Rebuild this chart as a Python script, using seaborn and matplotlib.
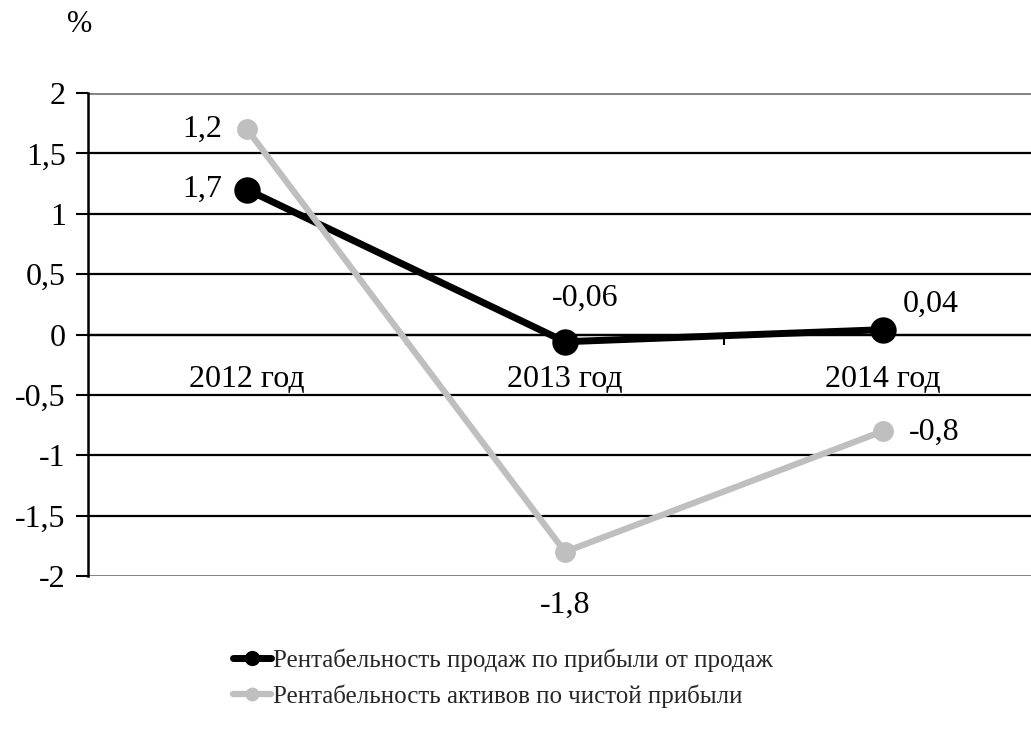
import matplotlib
matplotlib.use('Agg')
import matplotlib.pyplot as plt
import seaborn as sns
import pandas as pd

years = ['2012 год', '2013 год', '2014 год']
sales_margin = [1.2, -0.06, 0.04]
assets_return = [1.7, -1.8, -0.8]
sales_labels = ['1,7', '-0,06', '0,04']
assets_labels = ['1,2', '-1,8', '-0,8']
series_names = ['Рентабельность продаж по прибыли от продаж',
                'Рентабельность активов по чистой прибыли']
y_ticks = [-2, -1.5, -1, -0.5, 0, 0.5, 1, 1.5, 2]
y_tick_labels = ['-2', '-1,5', '-1', '-0,5', '0', '0,5', '1', '1,5', '2']

BLACK = '#000000'
GRAY = '#BFBFBF'

sns.set_theme(style='white')
plt.rcParams['font.family'] = ['Liberation Serif', 'DejaVu Serif']

fig = plt.figure(figsize=(10.31, 7.31), dpi=100)
ax = fig.add_axes([88 / 1031, 155 / 731, 954 / 1031, 483 / 731])

df_sales = pd.DataFrame({'year': years, 'value': sales_margin})
df_assets = pd.DataFrame({'year': years, 'value': assets_return})

sns.lineplot(data=df_sales, x='year', y='value', ax=ax, color=BLACK, sort=False,
             linewidth=5, marker='o', markersize=19, markeredgecolor=BLACK,
             markeredgewidth=0, label=series_names[0], zorder=3)
sns.lineplot(data=df_assets, x='year', y='value', ax=ax, color=GRAY, sort=False,
             linewidth=4.5, marker='o', markersize=15, markeredgecolor=GRAY,
             markeredgewidth=0, label=series_names[1], zorder=4)

ax.set_xlim(-0.5, 2.5)
ax.set_ylim(-2, 2)
ax.set_xlabel('')
ax.set_ylabel('')

# y axis
ax.set_yticks(y_ticks)
ax.set_yticklabels(y_tick_labels)
ax.tick_params(axis='y', direction='out', length=9, width=1.5, color=BLACK,
               labelsize=23, pad=7, left=True, labelcolor=BLACK)
ax.yaxis.grid(True, color=BLACK, linewidth=1.6)
ax.set_axisbelow(True)
glines = ax.yaxis.get_gridlines()
glines[0].set_color('#868686')
glines[-1].set_color('#868686')
glines[-1].set_linewidth(2.2)
glines[0].set_linewidth(2.2)

# x axis at zero
ax.set_xticks([0, 1, 2])
ax.set_xticklabels(years)
ax.set_xticks([0.5, 1.5], minor=True)
ax.tick_params(axis='x', which='major', length=0, labelsize=23, pad=22,
               labelcolor=BLACK, bottom=True)
ax.tick_params(axis='x', which='minor', direction='out', length=7, width=1.5,
               color=BLACK, bottom=True)
ax.spines['bottom'].set_position(('data', 0))
ax.spines['bottom'].set_color(BLACK)
ax.spines['bottom'].set_linewidth(1.6)
ax.spines['left'].set_color(BLACK)
ax.spines['left'].set_linewidth(1.8)
ax.spines['top'].set_visible(False)
ax.spines['right'].set_visible(False)

# data labels
sales_offsets = [(-45, 0), (20, 43), (48, 25)]
assets_offsets = [(-45, 0), (0, -53), (51, -1)]
for i, (v, lab, off) in enumerate(zip(sales_margin, sales_labels, sales_offsets)):
    ax.annotate(lab, xy=(i, v), xytext=off, textcoords='offset pixels',
                ha='center', va='center', fontsize=23, color=BLACK, zorder=6)
for i, (v, lab, off) in enumerate(zip(assets_return, assets_labels, assets_offsets)):
    ax.annotate(lab, xy=(i, v), xytext=off, textcoords='offset pixels',
                ha='center', va='center', fontsize=23, color=BLACK, zorder=6)

fig.text(80 / 1031, 1 - 24 / 731, '%', ha='center', va='center', fontsize=22,
         color=BLACK)

ax.get_legend().remove()
handles, labels = ax.get_legend_handles_labels()
leg = fig.legend(handles, labels, loc='upper left',
                 bbox_to_anchor=(233 / 1031, 1 - 648 / 731),
                 frameon=False, fontsize=18, handlelength=1.5,
                 handletextpad=0.1, labelspacing=0.5, borderpad=0,
                 borderaxespad=0)
for h, ms in zip(leg.legend_handles, [11, 10]):
    h.set_markersize(ms)

fig.savefig('out.png', dpi=100)
